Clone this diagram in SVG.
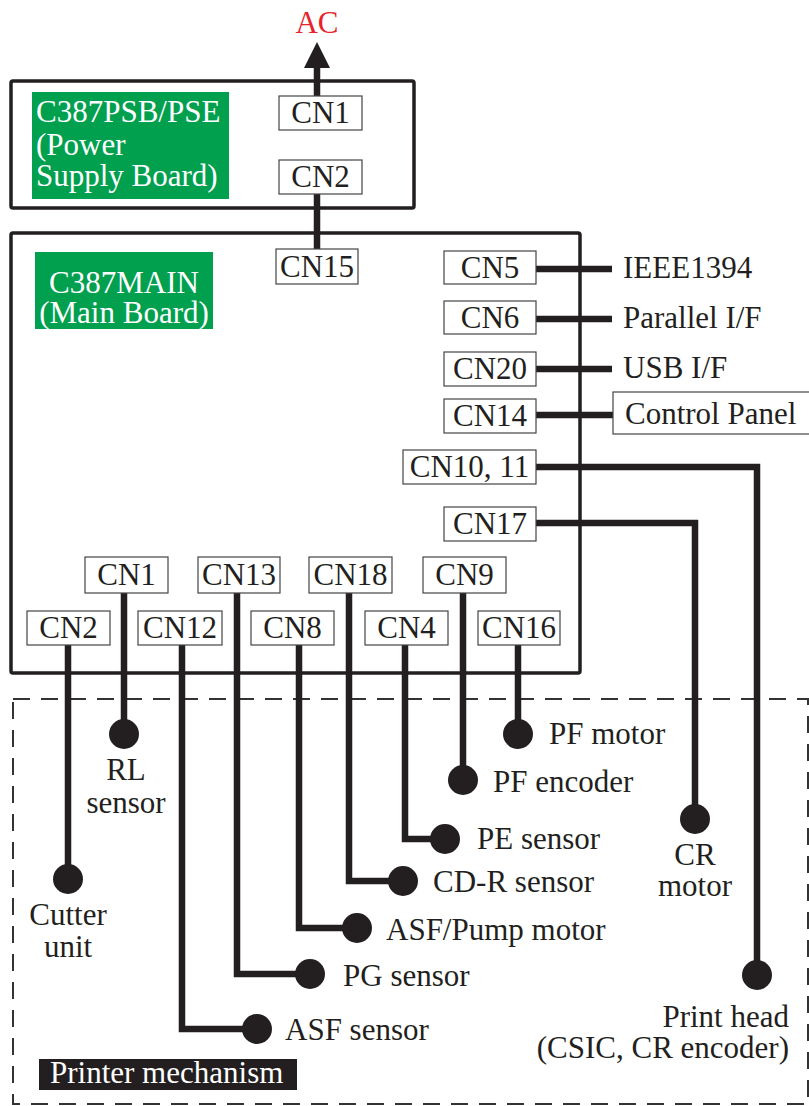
<svg xmlns="http://www.w3.org/2000/svg" width="809" height="1106" viewBox="0 0 809 1106">
<style>
text{font-family:"Liberation Serif","Times New Roman",serif;font-size:31px;fill:#231f20}
.c{text-anchor:middle}
.e{text-anchor:end}
.w{fill:#fff}
.red{fill:#e8232a}
.board{fill:none;stroke:#231f20;stroke-width:3.5;stroke-linejoin:round}
.cn{fill:#fff;stroke:#444;stroke-width:1.2}
.green{fill:#00a04f}
.wire{fill:none;stroke:#231f20;stroke-width:6.5;stroke-linejoin:miter}
.dot{fill:#231f20}
.dash{fill:none;stroke:#333;stroke-width:2;stroke-dasharray:17 11}
</style>
<defs>
<marker id="arr" markerUnits="userSpaceOnUse" markerWidth="28" markerHeight="28" refX="0" refY="13" orient="auto">
<path d="M0,0 L26,13 L0,26 Z" fill="#231f20"/>
</marker>
</defs>

<g id="printer-mechanism">
<rect class="dash" x="13" y="699" width="795" height="405"/>
<rect x="39" y="1059" width="258" height="31" fill="#231f20"/>
<text class="w" x="50" y="1083">Printer mechanism</text>
</g>

<g id="psb-board">
<rect class="board" x="11" y="81" width="403" height="127" rx="2"/>
<rect class="green" x="32" y="92" width="197" height="107"/>
<text class="w" x="36" y="122">C387PSB/PSE</text>
<text class="w" x="36" y="155">(Power</text>
<text class="w" x="36" y="186">Supply Board)</text>
</g>

<g id="main-board">
<rect class="board" x="11" y="233" width="569" height="440" rx="2"/>
<rect class="green" x="35" y="252" width="178" height="77"/>
<text class="w c" x="124" y="293">C387MAIN</text>
<text class="w c" x="124" y="323">(Main Board)</text>
</g>

<g id="connectors">
<path class="wire" d="M317,96 V68" marker-end="url(#arr)"/>
<path class="wire" d="M317,194 V249"/>
<path class="wire" d="M536,269 H612"/>
<path class="wire" d="M536,319 H612"/>
<path class="wire" d="M536,369 H612"/>
<path class="wire" d="M536,415 H613"/>
<path class="wire" d="M536,467 H757 V975"/>
<path class="wire" d="M536,523 H695 V819"/>
<path class="wire" d="M68,645 V879"/>
<path class="wire" d="M124,593 V734"/>
<path class="wire" d="M182,645 V1029 H257"/>
<path class="wire" d="M237,593 V974 H310"/>
<path class="wire" d="M299,645 V928 H357"/>
<path class="wire" d="M349,593 V881 H403"/>
<path class="wire" d="M405,645 V839 H445"/>
<path class="wire" d="M463,593 V780"/>
<path class="wire" d="M518,645 V734"/>
</g>

<g id="ac"><text class="red c" x="317" y="33">AC</text></g>

<g id="psb-cn1"><rect class="cn" x="279" y="96" width="83" height="34"/><text class="c" x="320.5" y="123">CN1</text></g>
<g id="psb-cn2"><rect class="cn" x="279" y="160" width="83" height="34"/><text class="c" x="320.5" y="187">CN2</text></g>
<g id="cn15"><rect class="cn" x="276" y="249" width="82" height="35"/><text class="c" x="317" y="277">CN15</text></g>

<g id="cn5"><rect class="cn" x="444" y="251" width="92" height="33"/><text class="c" x="490" y="278">CN5</text></g>
<g id="cn6"><rect class="cn" x="444" y="301" width="92" height="33"/><text class="c" x="490" y="328">CN6</text></g>
<g id="cn20"><rect class="cn" x="444" y="352" width="92" height="34"/><text class="c" x="490" y="379">CN20</text></g>
<g id="cn14"><rect class="cn" x="444" y="399" width="92" height="34"/><text class="c" x="490" y="426">CN14</text></g>
<g id="cn10-11"><rect class="cn" x="403" y="450" width="133" height="34"/><text class="c" x="469.5" y="477">CN10, 11</text></g>
<g id="cn17"><rect class="cn" x="444" y="507" width="92" height="34"/><text class="c" x="490" y="534">CN17</text></g>

<g id="ieee1394"><text x="623" y="278">IEEE1394</text></g>
<g id="parallel"><text x="623" y="328">Parallel I/F</text></g>
<g id="usb"><text x="623" y="378">USB I/F</text></g>
<g id="control-panel"><rect class="cn" x="613" y="392" width="200" height="42"/><text x="625" y="424">Control Panel</text></g>

<g id="cn1"><rect class="cn" x="85" y="557" width="83" height="36"/><text class="c" x="126.5" y="585">CN1</text></g>
<g id="cn13"><rect class="cn" x="198" y="557" width="82" height="36"/><text class="c" x="239" y="585">CN13</text></g>
<g id="cn18"><rect class="cn" x="309" y="557" width="83" height="36"/><text class="c" x="350.5" y="585">CN18</text></g>
<g id="cn9"><rect class="cn" x="423" y="557" width="83" height="36"/><text class="c" x="464.5" y="585">CN9</text></g>
<g id="cn2"><rect class="cn" x="27" y="611" width="83" height="34"/><text class="c" x="68.5" y="638">CN2</text></g>
<g id="cn12"><rect class="cn" x="138" y="611" width="84" height="34"/><text class="c" x="180" y="638">CN12</text></g>
<g id="cn8"><rect class="cn" x="251" y="611" width="83" height="34"/><text class="c" x="292.5" y="638">CN8</text></g>
<g id="cn4"><rect class="cn" x="365" y="611" width="83" height="34"/><text class="c" x="406.5" y="638">CN4</text></g>
<g id="cn16"><rect class="cn" x="478" y="611" width="82" height="34"/><text class="c" x="519" y="638">CN16</text></g>

<g id="cutter-unit"><circle class="dot" cx="68" cy="879" r="15"/><text class="c" x="68" y="925">Cutter</text><text class="c" x="68" y="957">unit</text></g>
<g id="rl-sensor"><circle class="dot" cx="124" cy="734" r="15"/><text class="c" x="126" y="780">RL</text><text class="c" x="126" y="813">sensor</text></g>
<g id="asf-sensor"><circle class="dot" cx="257" cy="1029" r="15"/><text x="285" y="1040">ASF sensor</text></g>
<g id="pg-sensor"><circle class="dot" cx="310" cy="974" r="15"/><text x="343" y="986">PG sensor</text></g>
<g id="asf-pump-motor"><circle class="dot" cx="357" cy="928" r="15"/><text x="386" y="940">ASF/Pump motor</text></g>
<g id="cdr-sensor"><circle class="dot" cx="403" cy="881" r="15"/><text x="433" y="892">CD-R sensor</text></g>
<g id="pe-sensor"><circle class="dot" cx="445" cy="839" r="15"/><text x="477" y="849">PE sensor</text></g>
<g id="pf-encoder"><circle class="dot" cx="463" cy="780" r="15"/><text x="493" y="792">PF encoder</text></g>
<g id="pf-motor"><circle class="dot" cx="518" cy="734" r="15"/><text x="549" y="744">PF motor</text></g>
<g id="cr-motor"><circle class="dot" cx="695" cy="819" r="15"/><text class="c" x="695" y="865">CR</text><text class="c" x="695" y="896">motor</text></g>
<g id="print-head"><circle class="dot" cx="757" cy="975" r="15"/><text class="e" x="789" y="1027">Print head</text><text class="e" x="789" y="1058">(CSIC, CR encoder)</text></g>
</svg>
